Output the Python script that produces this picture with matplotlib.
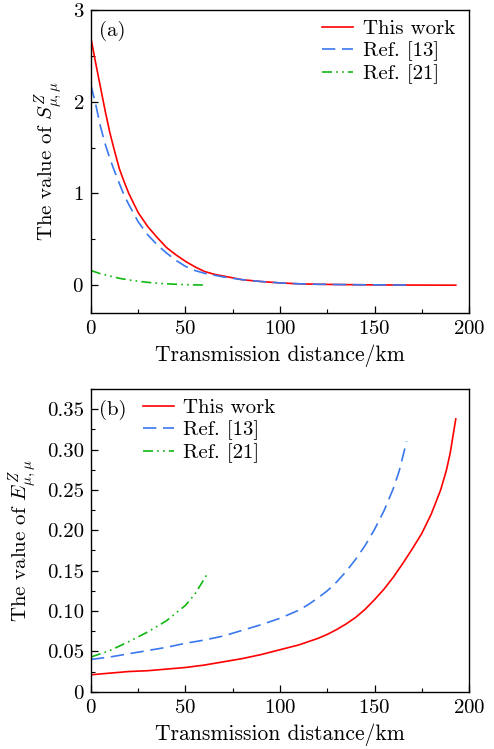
import matplotlib
matplotlib.use("Agg")
import matplotlib.pyplot as plt
from matplotlib.ticker import MultipleLocator, FixedLocator, FixedFormatter

plt.rcParams['font.family'] = 'serif'
plt.rcParams['font.serif'] = ['cmr10', 'DejaVu Serif']
plt.rcParams['mathtext.fontset'] = 'cm'
plt.rcParams['axes.formatter.use_mathtext'] = True
plt.rcParams['axes.unicode_minus'] = False

# ---- Panel (a) data: S^Z_{mu,mu} ----
a_this_x = [0, 2.5, 5, 7.5, 10, 12.5, 15, 17.5, 20, 25, 30, 35, 40, 45, 50, 55, 60, 65, 70, 80, 90,
            100, 110, 120, 140, 160, 193]
a_this_y = [2.69, 2.42, 2.16, 1.90, 1.66, 1.46, 1.27, 1.13, 1.00, 0.79, 0.64, 0.52, 0.41, 0.33, 0.26,
            0.20, 0.15, 0.12, 0.10, 0.06, 0.04, 0.025, 0.015, 0.01, 0.005, 0.002, 0.0]
a_ref13_x = [0, 2.5, 5, 7.5, 10, 12.5, 15, 17.5, 20, 25, 30, 35, 40, 45, 50, 55, 60, 65, 70, 80, 90,
             100, 110, 120, 140, 167]
a_ref13_y = [2.18, 1.97, 1.73, 1.54, 1.38, 1.24, 1.11, 0.98, 0.88, 0.69, 0.55, 0.44, 0.35, 0.27, 0.205,
             0.16, 0.13, 0.11, 0.09, 0.06, 0.04, 0.025, 0.015, 0.01, 0.005, 0.002]
a_ref21_x = [0, 5, 10, 15, 20, 25, 30, 35, 40, 45, 50, 55, 60]
a_ref21_y = [0.16, 0.125, 0.10, 0.075, 0.057, 0.043, 0.031, 0.022, 0.015, 0.010, 0.006, 0.003, 0.002]

# ---- Panel (b) data: E^Z_{mu,mu} ----
b_this_x = [0, 10, 20, 30, 40, 50, 60, 70, 80, 90, 100, 110, 120, 125, 130, 135, 140, 145, 150, 155,
            160, 165, 170, 175, 180, 185, 188, 190, 193]
b_this_y = [0.021, 0.023, 0.025, 0.026, 0.028, 0.030, 0.033, 0.037, 0.041, 0.046, 0.052, 0.058, 0.066,
            0.071, 0.077, 0.084, 0.092, 0.102, 0.114, 0.127, 0.142, 0.159, 0.177, 0.196, 0.220, 0.250,
            0.274, 0.295, 0.338]
b_ref13_x = [0, 10, 20, 30, 40, 50, 60, 70, 80, 90, 100, 110, 115, 120, 125, 130, 135, 140, 145, 150,
             155, 160, 163, 167]
b_ref13_y = [0.040, 0.043, 0.047, 0.051, 0.055, 0.060, 0.064, 0.069, 0.076, 0.083, 0.091, 0.101, 0.108,
             0.116, 0.125, 0.136, 0.149, 0.164, 0.181, 0.201, 0.224, 0.252, 0.273, 0.310]
b_ref21_x = [0, 10, 20, 30, 40, 50, 55, 60, 62]
b_ref21_y = [0.043, 0.051, 0.062, 0.074, 0.088, 0.107, 0.121, 0.140, 0.148]

labels = ['This work', 'Ref. [13]', 'Ref. [21]']
xticks = [0, 50, 100, 150, 200]
a_yticks = [0, 1, 2, 3]
b_yticks = [0, 0.05, 0.10, 0.15, 0.20, 0.25, 0.30, 0.35]
b_yticklabels = ['0', '0.05', '0.10', '0.15', '0.20', '0.25', '0.30', '0.35']

red = '#ff0000'
blue = '#3a78f0'
green = '#10b810'
dash13 = (0, (8, 4))
dash21 = (0, (6, 2.5, 1, 2.5, 1, 2.5))

fig = plt.figure(figsize=(4.94, 7.49), dpi=100)
axa = fig.add_axes([0.1842, 0.5825, 0.7652, 0.4041])
axb = fig.add_axes([0.1842, 0.0765, 0.7652, 0.4041])

FS = 15

def style(ax):
    ax.tick_params(which='both', direction='in', top=False, right=False, labelsize=FS)
    ax.tick_params(which='major', length=5, width=0.9, pad=5)
    ax.tick_params(which='minor', length=3, width=0.8)
    for s in ax.spines.values():
        s.set_linewidth(1.0)
    ax.set_xlim(0, 200)
    ax.xaxis.set_major_locator(FixedLocator(xticks))
    ax.xaxis.set_minor_locator(MultipleLocator(25))
    ax.set_xlabel('Transmission distance/km', fontsize=FS + 0.5, labelpad=5)

legend_kw = dict(frameon=False, fontsize=FS, handlelength=1.5, handletextpad=0.45,
                 labelspacing=0.15)

# Panel (a)
axa.plot(a_this_x, a_this_y, color=red, lw=1.2, label=labels[0])
axa.plot(a_ref13_x, a_ref13_y, color=blue, lw=1.2, linestyle=dash13, label=labels[1])
axa.plot(a_ref21_x, a_ref21_y, color=green, lw=1.2, linestyle=dash21, label=labels[2])
style(axa)
axa.set_ylim(-0.3, 3)
axa.yaxis.set_major_locator(FixedLocator(a_yticks))
axa.yaxis.set_minor_locator(MultipleLocator(0.5))
axa.set_ylabel(r'The value of $S^{Z}_{\mu,\mu}$', fontsize=FS, labelpad=5)
axa.text(0.022, 0.965, '(a)', transform=axa.transAxes, fontsize=FS, va='top', ha='left')
axa.legend(loc='upper right', borderaxespad=0.0, bbox_to_anchor=(0.985, 0.995), **legend_kw)

# Panel (b)
axb.plot(b_this_x, b_this_y, color=red, lw=1.2, label=labels[0])
axb.plot(b_ref13_x, b_ref13_y, color=blue, lw=1.2, linestyle=dash13, label=labels[1])
axb.plot(b_ref21_x, b_ref21_y, color=green, lw=1.2, linestyle=dash21, label=labels[2])
style(axb)
axb.set_ylim(0, 0.375)
axb.yaxis.set_major_locator(FixedLocator(b_yticks))
axb.yaxis.set_major_formatter(FixedFormatter(b_yticklabels))
axb.yaxis.set_minor_locator(MultipleLocator(0.025))
axb.set_ylabel(r'The value of $E^{Z}_{\mu,\mu}$', fontsize=FS, labelpad=6)
axb.text(0.022, 0.965, '(b)', transform=axb.transAxes, fontsize=FS, va='top', ha='left')
axb.legend(loc='upper left', borderaxespad=0.0, bbox_to_anchor=(0.115, 0.995), **legend_kw)

fig.savefig('out.png', dpi=100)
